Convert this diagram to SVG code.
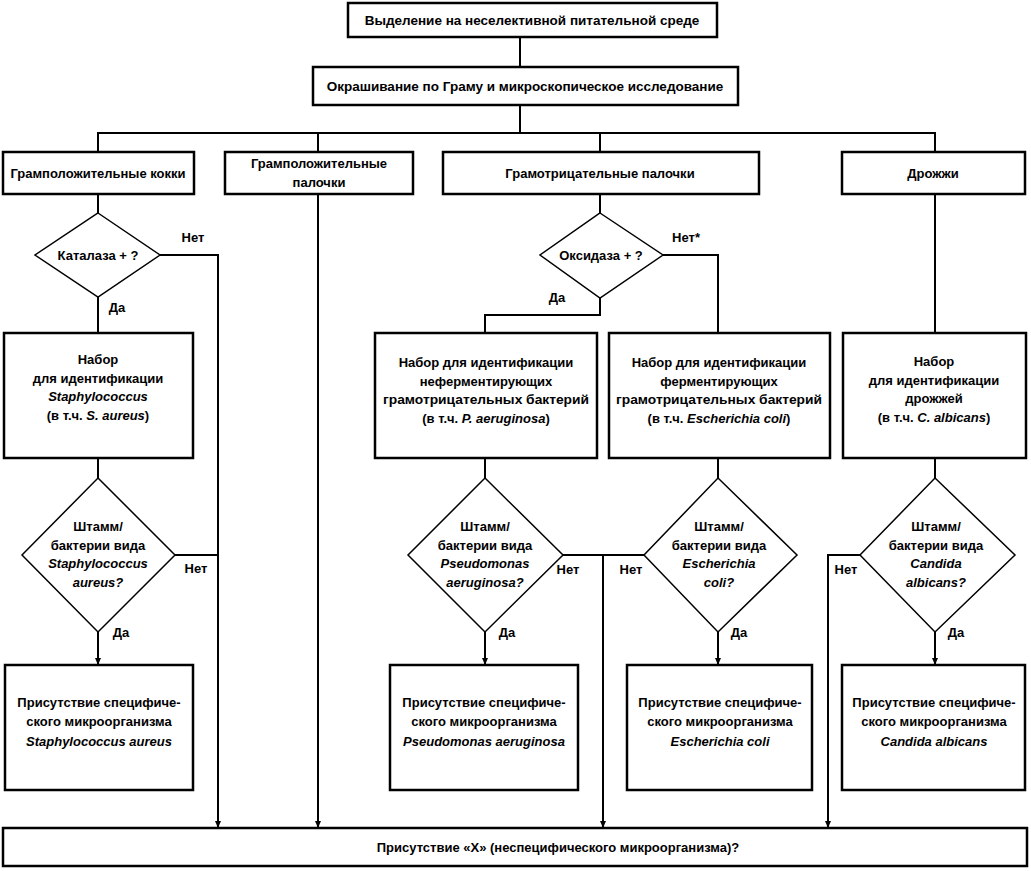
<svg xmlns="http://www.w3.org/2000/svg" width="1031" height="871" viewBox="0 0 1031 871">
<defs>
<style>
.box{fill:#fff;stroke:#000;stroke-width:2.5}
.dia{fill:#fff;stroke:#000;stroke-width:1.5}
.ln{fill:none;stroke:#000;stroke-width:2}
text{font-family:"Liberation Sans",Arial,sans-serif;font-size:13px;font-weight:bold;fill:#000;text-anchor:middle}
.t{font-size:13.5px}
.lb{font-size:13px}
.i{font-style:italic}
</style>
<marker id="ah" markerWidth="8" markerHeight="8" refX="6" refY="4" orient="auto" markerUnits="userSpaceOnUse">
<path d="M0,1 L7,4 L0,7 Z" fill="#000"/>
</marker>
</defs>
<rect width="1031" height="871" fill="#fff"/>
<g id="connectors">
<line class="ln" x1="520" y1="37" x2="520" y2="67"/>
<line class="ln" x1="520" y1="105" x2="520" y2="133"/>
<polyline class="ln" points="98,152 98,133 935,133 935,152"/>
<line class="ln" x1="318" y1="133" x2="318" y2="152"/>
<line class="ln" x1="600" y1="133" x2="600" y2="152"/>
<line class="ln" x1="98" y1="194" x2="98" y2="213"/>
<line class="ln" x1="98" y1="297" x2="98" y2="333"/>
<polyline class="ln" points="160,255 218,255 218,827" marker-end="url(#ah)"/>
<line class="ln" x1="98" y1="458" x2="98" y2="478"/>
<line class="ln" x1="175" y1="555" x2="218" y2="555"/>
<line class="ln" x1="98" y1="632" x2="98" y2="664" marker-end="url(#ah)"/>
<line class="ln" x1="318" y1="194" x2="318" y2="827" marker-end="url(#ah)"/>
<line class="ln" x1="600" y1="194" x2="600" y2="213"/>
<polyline class="ln" points="663,255 718,255 718,333"/>
<polyline class="ln" points="600,298 600,315 485,315 485,333"/>
<line class="ln" x1="485" y1="458" x2="485" y2="478"/>
<line class="ln" x1="718" y1="458" x2="718" y2="478"/>
<line class="ln" x1="563" y1="555" x2="644" y2="555"/>
<line class="ln" x1="603" y1="555" x2="603" y2="827" marker-end="url(#ah)"/>
<line class="ln" x1="485" y1="632" x2="485" y2="664" marker-end="url(#ah)"/>
<line class="ln" x1="718" y1="632" x2="718" y2="664" marker-end="url(#ah)"/>
<line class="ln" x1="935" y1="194" x2="935" y2="333"/>
<line class="ln" x1="935" y1="458" x2="935" y2="478"/>
<polyline class="ln" points="860,555 828,555 828,827" marker-end="url(#ah)"/>
<line class="ln" x1="935" y1="632" x2="935" y2="664" marker-end="url(#ah)"/>
</g>
<g id="n_isolate"><rect class="box" x="348" y="3" width="369" height="34"/><text class="t" x="532" y="25">Выделение на неселективной питательной среде</text></g>
<g id="n_gram"><rect class="box" x="313" y="67" width="425" height="38"/><text class="t" x="525" y="91">Окрашивание по Граму и микроскопическое исследование</text></g>
<g id="n_gpc"><rect class="box" x="3" y="152" width="191" height="42"/><text x="98" y="178">Грамположительные кокки</text></g>
<g id="n_gpr"><rect class="box" x="225" y="152" width="188" height="42"/><text x="319" y="168">Грамположительные</text><text x="319" y="187">палочки</text></g>
<g id="n_gnr"><rect class="box" x="443" y="152" width="316" height="42"/><text x="600" y="178">Грамотрицательные палочки</text></g>
<g id="n_yeast"><rect class="box" x="842" y="152" width="183" height="42"/><text x="933" y="178">Дрожжи</text></g>
<g id="d_catalase"><polygon class="dia" points="98,213 160,255 98,297 35,255"/><text x="98" y="260">Каталаза + ?</text></g>
<g id="d_oxidase"><polygon class="dia" points="600,213 663,255 600,298 540,255"/><text x="601" y="260">Оксидаза + ?</text></g>
<g id="n_kit_staph"><rect class="box" x="4" y="333" width="189" height="125"/><text x="98" y="364">Набор</text><text x="98" y="383">для идентификации</text><text x="98" y="401" class="i">Staphylococcus</text><text x="98" y="420">(в т.ч. <tspan class="i">S. aureus</tspan>)</text></g>
<g id="n_kit_nf"><rect class="box" x="375" y="333" width="222" height="125"/><text x="486" y="367">Набор для идентификации</text><text x="486" y="386">неферментирующих</text><text x="486" y="404" textLength="206" lengthAdjust="spacingAndGlyphs">грамотрицательных бактерий</text><text x="486" y="423">(в т.ч. <tspan class="i">P. aeruginosa</tspan>)</text></g>
<g id="n_kit_f"><rect class="box" x="609" y="333" width="221" height="125"/><text x="719" y="367">Набор для идентификации</text><text x="719" y="386">ферментирующих</text><text x="719" y="404" textLength="206" lengthAdjust="spacingAndGlyphs">грамотрицательных бактерий</text><text x="719" y="423">(в т.ч. <tspan class="i">Escherichia coli</tspan>)</text></g>
<g id="n_kit_yeast"><rect class="box" x="843" y="333" width="183" height="125"/><text x="934" y="366">Набор</text><text x="934" y="385">для идентификации</text><text x="934" y="403">дрожжей</text><text x="934" y="422">(в т.ч. <tspan class="i">C. albicans</tspan>)</text></g>
<g id="d_sa"><polygon class="dia" points="98,478 175,555 98,632 22,555"/><text x="98" y="531">Штамм/</text><text x="98" y="550">бактерии вида</text><text x="98" y="568" class="i">Staphylococcus</text><text x="98" y="587" class="i">aureus?</text></g>
<g id="d_pa"><polygon class="dia" points="485,478 563,555 485,632 408,555"/><text x="485" y="531">Штамм/</text><text x="485" y="550">бактерии вида</text><text x="485" y="568" class="i">Pseudomonas</text><text x="485" y="587" class="i">aeruginosa?</text></g>
<g id="d_ec"><polygon class="dia" points="718,478 797,555 718,632 644,555"/><text x="719" y="531">Штамм/</text><text x="719" y="550">бактерии вида</text><text x="719" y="568" class="i">Escherichia</text><text x="719" y="587" class="i">coli?</text></g>
<g id="d_ca"><polygon class="dia" points="935,478 1015,555 935,632 860,555"/><text x="936" y="531">Штамм/</text><text x="936" y="550">бактерии вида</text><text x="936" y="568" class="i">Candida</text><text x="936" y="587" class="i">albicans?</text></g>
<g id="n_res_sa"><rect class="box" x="5" y="665" width="188" height="125"/><text x="99" y="707">Присутствие специфиче-</text><text x="99" y="726">ского микроорганизма</text><text x="99" y="746" class="i">Staphylococcus aureus</text></g>
<g id="n_res_pa"><rect class="box" x="390" y="665" width="188" height="125"/><text x="484" y="707">Присутствие специфиче-</text><text x="484" y="726">ского микроорганизма</text><text x="484" y="746" class="i">Pseudomonas aeruginosa</text></g>
<g id="n_res_ec"><rect class="box" x="627" y="665" width="185" height="125"/><text x="720" y="707">Присутствие специфиче-</text><text x="720" y="726">ского микроорганизма</text><text x="720" y="746" class="i">Escherichia coli</text></g>
<g id="n_res_ca"><rect class="box" x="842" y="665" width="183" height="125"/><text x="934" y="707">Присутствие специфиче-</text><text x="934" y="726">ского микроорганизма</text><text x="934" y="746" class="i">Candida albicans</text></g>
<g id="n_res_x"><rect class="box" x="3" y="828" width="1024" height="38"/><text x="558" y="852">Присутствие «X» (неспецифического микроорганизма)?</text></g>
<g id="labels">
<text class="lb" x="193" y="242">Нет</text>
<text class="lb" x="117" y="312">Да</text>
<text class="lb" x="686" y="242">Нет*</text>
<text class="lb" x="557" y="302">Да</text>
<text class="lb" x="196" y="573">Нет</text>
<text class="lb" x="121" y="637">Да</text>
<text class="lb" x="568" y="574">Нет</text>
<text class="lb" x="631" y="574">Нет</text>
<text class="lb" x="507" y="637">Да</text>
<text class="lb" x="739" y="637">Да</text>
<text class="lb" x="846" y="574">Нет</text>
<text class="lb" x="956" y="637">Да</text>
</g>
</svg>
